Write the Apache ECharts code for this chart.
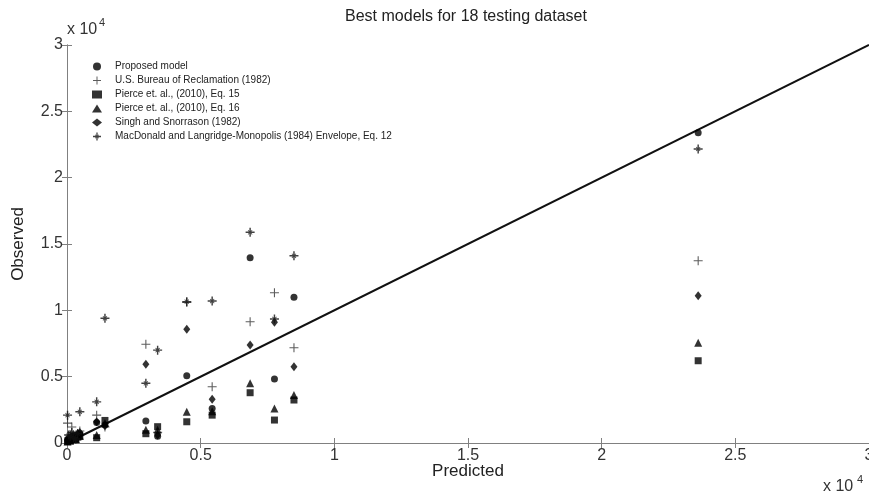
<!DOCTYPE html>
<html>
<head>
<meta charset="UTF-8">
<title>Best models</title>
<script src="https://cdn.jsdelivr.net/npm/echarts@6/dist/echarts.min.js"></script>
<style>
  html, body { margin: 0; padding: 0; background: #fff; }
  #main { width: 869px; height: 495px; }
</style>
</head>
<body>
<div id="main"></div>
<script type="text/javascript">
// predicted value of each of the 18 testing datasets
var predicted = [20, 60, 120, 180, 250, 330, 400, 480, 1110, 1420, 2950, 3390, 4480, 5430, 6850, 7760, 8490, 23610];

// observed values read per model (same order as predicted)
var proposed  = [150, 300, 250, 450, 500, 350, 600, 700, 1550, 1350, 1650, 500, 5070, 2600, 13960, 4820, 10980, 23380];
var usbr      = [1500, 400, 600, 1200, 300, 500, 700, 900, 2100, 1200, 7440, 800, 10600, 4240, 9140, 11330, 7180, 13740];
var pierce15  = [100, 200, 150, 300, 350, 250, 450, 500, 400, 1700, 700, 1230, 1600, 2100, 3790, 1730, 3240, 6200];
var pierce16  = [120, 250, 180, 350, 400, 300, 500, 550, 600, 1500, 1000, 1000, 2360, 2400, 4500, 2600, 3620, 7560];
var singh     = [200, 350, 300, 500, 600, 400, 700, 800, 1600, 1300, 5930, 600, 8570, 3300, 7380, 9100, 5750, 11100];
var macdonald = [2100, 600, 500, 800, 400, 300, 700, 2350, 3100, 9400, 4500, 7000, 10650, 10700, 15880, 9350, 14110, 22160];

var seriesNames = [
  'Proposed model',
  'U.S. Bureau of Reclamation (1982)',
  'Pierce et. al., (2010), Eq. 15',
  'Pierce et. al., (2010), Eq. 16',
  'Singh and Snorrason (1982)',
  'MacDonald and Langridge-Monopolis (1984) Envelope, Eq. 12'
];
var seriesValues = [proposed, usbr, pierce15, pierce16, singh, macdonald];

// 1:1 line end points
var lineX = [0, 30000];
var lineY = [0, 30000];

var plusPath = 'path://M4.4,0H5.6V4.4H10V5.6H5.6V10H4.4V5.6H0V4.4H4.4Z';
// matlab '*' marker: bold plus with short diagonal arms
var starPath = 'path://M4.2,0H5.8V3.6L7.0,2.4L7.6,3.0L6.4,4.2H10V5.8H6.4L7.6,7.0L7.0,7.6L5.8,6.4V10H4.2V6.4L3.0,7.6L2.4,7.0L3.6,5.8H0V4.2H3.6L2.4,3.0L3.0,2.4L4.2,3.6Z';
var symbols = ['circle', plusPath, 'rect', 'triangle', 'diamond', starPath];
var sizes = [7, 9, 7, [8, 8], [7, 9], 9];
var colors = ['#000', '#333', '#000', '#000', '#000', '#111'];

function pairs(xs, ys) {
  var out = [];
  for (var i = 0; i < xs.length; i++) out.push([xs[i], ys[i]]);
  return out;
}

var series = [];
for (var k = 0; k < seriesNames.length; k++) {
  series.push({
    name: seriesNames[k],
    type: 'scatter',
    symbol: symbols[k],
    symbolSize: sizes[k],
    itemStyle: { color: colors[k] },
    data: pairs(predicted, seriesValues[k]),
    z: 3
  });
}
series.push({
  name: 'line',
  type: 'line',
  data: pairs(lineX, lineY),
  symbol: 'none',
  lineStyle: { color: '#111', width: 2 },
  z: 2,
  silent: true
});

var axisGray = '#808080';
var labelFont = 'Liberation Sans, Arial, sans-serif';

function fmt(v) { return String(v / 10000); }

var myChart = echarts.init(document.getElementById('main'));
var option = {
  backgroundColor: '#fff',
  animation: false,
  textStyle: { fontFamily: labelFont },
  grid: { left: 67, right: 0, top: 45, bottom: 52, outerBoundsMode: 'none', containLabel: false },
  legend: {
    orient: 'vertical',
    left: 87,
    top: 56,
    itemWidth: 10,
    itemHeight: 8,
    itemGap: 3,
    data: seriesNames,
    textStyle: { fontSize: 10, color: '#222', lineHeight: 11, fontFamily: labelFont, padding: [0, 0, 0, 8] }
  },
  xAxis: [{
    type: 'value', min: 0, max: 30000, interval: 5000,
    name: 'Predicted', nameLocation: 'middle', nameGap: 20, nameMoveOverlap: false,
    nameTextStyle: { fontSize: 17, color: '#222' },
    axisLine: { show: true, lineStyle: { color: axisGray } },
    axisTick: { show: true, inside: true, length: 5, lineStyle: { color: axisGray } },
    axisLabel: { formatter: fmt, fontSize: 16, color: '#333', margin: 5 },
    splitLine: { show: false }
  }, {
    type: 'value', position: 'top', min: 0, max: 30000, interval: 5000,
    axisLine: { show: true, lineStyle: { color: axisGray } },
    axisTick: { show: true, inside: true, length: 5, lineStyle: { color: axisGray } },
    axisLabel: { show: false },
    splitLine: { show: false }
  }],
  yAxis: [{
    type: 'value', min: 0, max: 30000, interval: 5000,
    name: 'Observed', nameLocation: 'middle', nameGap: 40, nameMoveOverlap: false,
    nameTextStyle: { fontSize: 17, color: '#222' },
    axisLine: { show: true, lineStyle: { color: axisGray } },
    axisTick: { show: true, inside: true, length: 5, lineStyle: { color: axisGray } },
    axisLabel: { formatter: fmt, fontSize: 16, color: '#333', margin: 4 },
    splitLine: { show: false }
  }, {
    type: 'value', position: 'right', min: 0, max: 30000, interval: 5000,
    axisLine: { show: true, lineStyle: { color: axisGray } },
    axisTick: { show: true, inside: true, length: 5, lineStyle: { color: axisGray } },
    axisLabel: { show: false },
    splitLine: { show: false }
  }],
  graphic: [
    { type: 'text', x: 466, y: 9, style: { text: 'Best models for 18 testing dataset', font: '16px ' + labelFont, fill: '#222', align: 'center' } },
    { type: 'text', x: 67, y: 22, style: { text: 'x 10', font: '16px ' + labelFont, fill: '#333' } },
    { type: 'text', x: 99, y: 17, style: { text: '4', font: '11px ' + labelFont, fill: '#333' } },
    { type: 'text', x: 823, y: 479, style: { text: 'x 10', font: '16px ' + labelFont, fill: '#333' } },
    { type: 'text', x: 857, y: 474, style: { text: '4', font: '11px ' + labelFont, fill: '#333' } }
  ],
  series: series
};
myChart.setOption(option);
</script>
</body>
</html>
